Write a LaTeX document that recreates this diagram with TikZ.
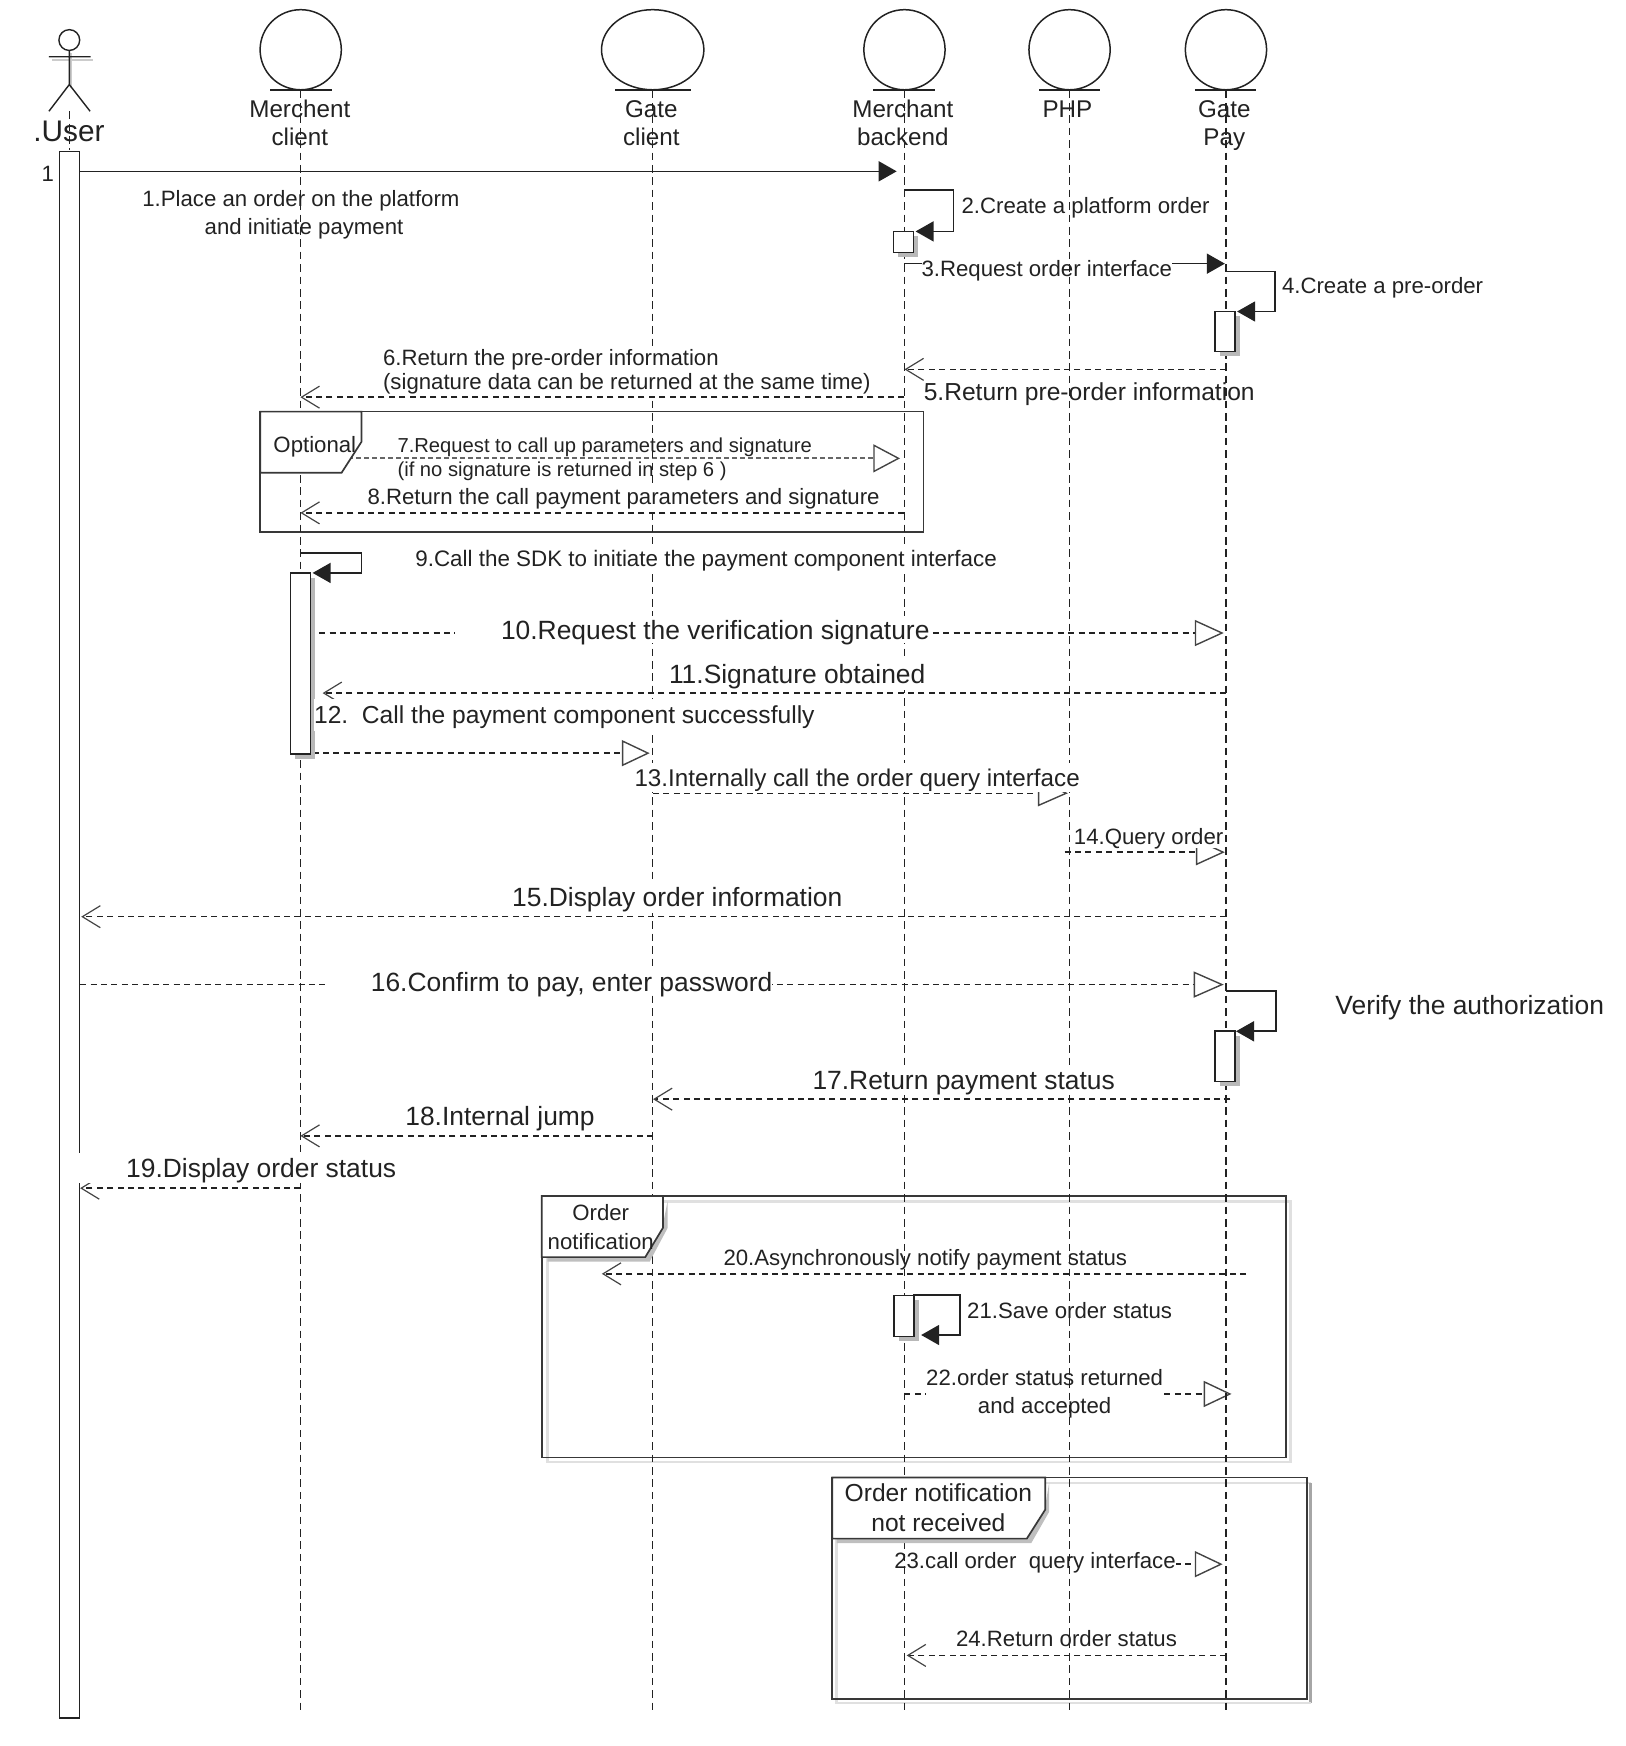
\documentclass[tikz,border=0pt]{standalone}
\usepackage{fontspec}
\setmainfont{Liberation Sans}
\usetikzlibrary{arrows.meta,shapes.geometric,shadows}
\def\ov{0.55625pt}
\definecolor{ink}{HTML}{222222}
\definecolor{headc}{HTML}{444444}
\tikzset{
  x=0.55625pt, y=-0.55625pt,
  every node/.style={text=ink, inner sep=0pt},
  headnode/.style={draw=ink, line width=0.75pt, ellipse, minimum height=72*\ov},
  headlabel/.style={align=center, font=\fontsize{12.1}{13.9}\selectfont},
  headbar/.style={draw=ink, line width=0.8pt},
  life/.style={draw=ink, line width=0.72pt, dash pattern=on 3.8pt off 2.4pt},
  mlsmall/.style={font=\fontsize{11.1}{13.9}\selectfont},
  small/.style={font=\fontsize{11.1}{13.9}\selectfont, text height=8.8pt, text depth=0pt},
  tiny/.style={font=\fontsize{10.1}{12.2}\selectfont, align=left},
  mid/.style={font=\fontsize{12.3}{14.5}\selectfont, text height=9pt, text depth=0pt},
  big/.style={font=\fontsize{13.2}{15}\selectfont, text height=9.4pt, text depth=0pt},
  wbox/.style={fill=white, minimum height=#1*\ov, anchor=west},
  barbox/.style 2 args={draw=ink, fill=white, line width=0.8pt, minimum width=#1*\ov, minimum height=#2*\ov},
  actbox/.style 2 args={barbox={#1}{#2}, drop shadow={shadow xshift=2.4pt, shadow yshift=-2.4pt, fill=black!28, opacity=1}},
  syncmsg/.style={draw=ink, line width=0.8pt, -{Triangle[length=9pt,width=10pt,fill=ink]}},
  retmsg/.style={draw=ink, line width=0.72pt, dash pattern=on 3pt off 2.2pt, -{Straight Barb[length=9pt,width=11pt,line width=0.6pt,color=headc]}},
  tri/.style={draw=ink, line width=0.72pt, dash pattern=on 3pt off 2.2pt, -{Triangle[length=#1*\ov,width=13pt,fill=white,line width=0.7pt,color=headc]}},
  selfmsg/.style={draw=ink, line width=0.8pt, -{Triangle[length=9pt,width=10pt,fill=ink]}},
  frame/.style={draw=ink!90, line width=0.85pt},
  frameshadow/.style={draw=#1, line width=1.2pt},
  tab/.style={draw=ink!90, fill=white, line width=0.85pt},
  tabshadow/.style={fill=black!25},
}
\begin{document}
\begin{tikzpicture}
\useasboundingbox (0,0) rectangle (1461.57,1569.44);
% heads
\node[headnode, minimum width=73*\ov] (mc) at (270.3,44.7) {};
\node[headnode, minimum width=92*\ov] (gc) at (586.7,44.7) {};
\node[headnode, minimum width=73*\ov] (mb) at (813.0,44.7) {};
\node[headnode, minimum width=73*\ov] (ph) at (961.4,44.7) {};
\node[headnode, minimum width=73*\ov] (gp) at (1102,44.7) {};
\coordinate (mcL) at (243,81); \coordinate (mcR) at (298,81);
\coordinate (gcL) at (553,81); \coordinate (gcR) at (621,81);
\coordinate (mbL) at (785,81); \coordinate (mbR) at (840,81);
\coordinate (phL) at (934,81); \coordinate (phR) at (989,81);
\coordinate (gpL) at (1074,81); \coordinate (gpR) at (1129,81);
\draw[headbar] (mcL) -- (mcR); \draw[headbar] (gcL) -- (gcR); \draw[headbar] (mbL) -- (mbR);
\draw[headbar] (phL) -- (phR); \draw[headbar] (gpL) -- (gpR);
\node[headlabel] (lmc) at (269.5,110.5) {Merchent\\client};
\node[headlabel] (lgc) at (585.5,110.5) {Gate\\client};
\node[headlabel] (lmb) at (811.5,110.5) {Merchant\\backend};
\node[headlabel] (lph) at (959.5,98) {PHP};
\node[headlabel] (lgp) at (1100.5,113) {Gate\\Pay};
% actor
\draw[black!20, line width=1pt] (47,54) -- (84,54) (64,48) -- (64,79);
\draw[draw=ink, line width=0.7pt] (62.3,36) circle (5.2pt);
\coordinate (armL) at (44,51); \coordinate (armR) at (81.5,51);
\coordinate (neck) at (62.3,45.5); \coordinate (hip) at (62.3,76);
\coordinate (legL) at (44,100); \coordinate (legR) at (81,100);
\draw[draw=ink, line width=0.7pt] (armL) -- (armR) (neck) -- (hip) (legL) -- (hip) -- (legR);
\node[font=\fontsize{14.9}{17}\selectfont] (luser) at (62,118) {.User};
\node[mlsmall] (one) at (43,156) {1};
% frames
\draw[frame] (234,370) rectangle (830,478);
\draw[frameshadow=black!12] (492,1080) -- (1160,1080) -- (1160,1314) -- (492,1314) -- cycle;
\draw[frame] (487,1075) rectangle (1156,1310);
\draw[frameshadow=black!12] (752,1333) -- (1178,1333);
\draw[frameshadow=black!35] (1178,1333) -- (1178,1531);
\draw[frameshadow=black!12] (1178,1531) -- (752,1531) -- (752,1333);
\draw[frame] (748,1328) rectangle (1175,1527);
% messages
\coordinate (m1a) at (72,154); \coordinate (m1b) at (806,154);
\draw[syncmsg] (m1a) -- (m1b);
\coordinate (m3a) at (813,237); \coordinate (m3b) at (1101,237);
\draw[syncmsg] (m3a) -- (m3b);
\coordinate (m5a) at (1102,332); \coordinate (m5b) at (813,332);
\draw[retmsg] (m5a) -- (m5b);
\coordinate (m7a) at (270,412); \coordinate (m7b) at (809,412);
\draw[draw=black!60, line width=1pt, dash pattern=on 2.4pt off 1.6pt, -{Triangle[length=24*\ov,width=14pt,fill=white,line width=0.7pt,color=headc]}] (m7a) -- (m7b);
\coordinate (m8a) at (813,461); \coordinate (m8b) at (270,461);
\draw[retmsg] (m8a) -- (m8b);
\coordinate (m10a) at (287,569); \coordinate (m10b) at (1100,569);
\draw[tri=26] (m10a) -- (m10b);
\coordinate (m11a) at (1102,623); \coordinate (m11b) at (290,623);
\draw[retmsg] (m11a) -- (m11b);
\coordinate (m12a) at (281,677); \coordinate (m12b) at (584,677);
\draw[tri=25] (m12a) -- (m12b);
\coordinate (m13a) at (587,713); \coordinate (m13b) at (960,713);
\draw[tri=27] (m13a) -- (m13b);
\coordinate (m14a) at (957,766); \coordinate (m14b) at (1101,766);
\draw[tri=26] (m14a) -- (m14b);
\coordinate (m15a) at (1102,824); \coordinate (m15b) at (73,824);
\draw[retmsg] (m15a) -- (m15b);
\coordinate (m16a) at (72,885); \coordinate (m16b) at (1100,885);
\draw[tri=27] (m16a) -- (m16b);
\coordinate (m17a) at (1106,988); \coordinate (m17b) at (587,988);
\draw[retmsg] (m17a) -- (m17b);
\coordinate (m18a) at (587,1021); \coordinate (m18b) at (270,1021);
\draw[retmsg] (m18a) -- (m18b);
\coordinate (m19a) at (270,1068); \coordinate (m19b) at (72,1068);
\draw[retmsg] (m19a) -- (m19b);
\coordinate (m20a) at (1120,1145); \coordinate (m20b) at (541,1145);
\draw[retmsg] (m20a) -- (m20b);
\coordinate (m22a) at (813,1253); \coordinate (m22b) at (1107,1253);
\draw[tri=25] (m22a) -- (m22b);
\coordinate (m23a) at (813,1406); \coordinate (m23b) at (1099,1406);
\draw[tri=25] (m23a) -- (m23b);
\coordinate (m24a) at (1102,1488); \coordinate (m24b) at (815,1488);
\draw[retmsg] (m24a) -- (m24b);
% labels through which the lifelines show
\node[small, wbox=22] (l3) at (828,241) {3.Request order interface};
\node[mlsmall, fill=white, align=center] (l22) at (939,1253) {22.order status returned\\and accepted};
\node[small, wbox=24] (l23) at (803.5,1402) {23.call order\ \ query interface};
% lifelines
\coordinate (ue) at (62.3,135); \coordinate (us) at (62.3,100);
\coordinate (mce) at (270.3,1540); \coordinate (gce) at (586.7,1540); \coordinate (mbe) at (813,1540);
\coordinate (phe) at (961.4,1540); \coordinate (gpe) at (1102,1540);
\draw[life] (us) -- (ue);
\draw[life] (mc.south) -- (mce);
\draw[life] (gc.south) -- (gce);
\draw[life] (mb.south) -- (mbe);
\draw[life] (ph.south) -- (phe);
\draw[life] (gp.south) -- (gpe);
% activations
\node[barbox={18}{1408}] (ub) at (62.5,840) {};
\node[actbox={18}{19}] (a2) at (812,217.5) {};
\node[actbox={18}{36}] (a4) at (1101,298) {};
\node[actbox={18}{163}] (a9) at (270,596.5) {};
\node[actbox={18}{45}] (a17) at (1101,949.5) {};
\node[actbox={18}{37}] (a21) at (812.5,1183) {};
% self messages
\coordinate (s2a) at (813,171); \coordinate (s2b) at (857,171); \coordinate (s2c) at (857,208); \coordinate (s2d) at (823,208);
\draw[selfmsg] (s2a) -- (s2b) -- (s2c) -- (s2d);
\coordinate (s4a) at (1102,244); \coordinate (s4b) at (1146,244); \coordinate (s4c) at (1146,280); \coordinate (s4d) at (1112,280);
\draw[selfmsg] (s4a) -- (s4b) -- (s4c) -- (s4d);
\coordinate (s9a) at (270,497); \coordinate (s9b) at (325,497); \coordinate (s9c) at (325,515); \coordinate (s9d) at (281,515);
\draw[selfmsg] (s9a) -- (s9b) -- (s9c) -- (s9d);
\coordinate (s16a) at (1102,891); \coordinate (s16b) at (1147,891); \coordinate (s16c) at (1147,927); \coordinate (s16d) at (1111,927);
\draw[selfmsg] (s16a) -- (s16b) -- (s16c) -- (s16d);
\coordinate (s21a) at (821,1164); \coordinate (s21b) at (863,1164); \coordinate (s21c) at (863,1200); \coordinate (s21d) at (828,1200);
\draw[selfmsg] (s21a) -- (s21b) -- (s21c) -- (s21d);
% transparent labels
\node[mlsmall, align=center] (l1) at (270.5,193) {1.Place an order on the platform\\\ and initiate payment};
\node[small, anchor=west] (l2) at (864,184) {2.Create a platform order};
\node[small, anchor=west] (l4) at (1152,256) {4.Create a pre-order};
\node[mid, anchor=west] (l5) at (830,352) {5.Return pre-order information};
\node[tiny, anchor=west] (l7) at (357,413) {7.Request to call up parameters and signature\\(if no signature is returned in step 6 )};
\node[small, anchor=west] (l20) at (650,1130) {20.Asynchronously notify payment status};
\node[small, anchor=west] (l21) at (869,1177) {21.Save order status};
\node[small, anchor=west] (l24) at (859,1472.5) {24.Return order status};
\node[big, anchor=west] (lv) at (1200,903) {Verify the authorization};
% labels that cover the lifelines
\node[font=\fontsize{11.1}{12.1}\selectfont, fill=white, align=left, anchor=west, minimum height=44*\ov] (l6) at (344,334.5) {6.Return the pre-order information\\(signature data can be returned at the same time)};
\coordinate (m6a) at (813,357); \coordinate (m6b) at (270,357);
\draw[retmsg] (m6a) -- (m6b);
\node[small, wbox=24] (l8) at (330,446) {8.Return the call payment parameters and signature};
\node[small, font=\fontsize{11.2}{13.9}\selectfont, wbox=24] (l9) at (373,501) {9.Call the SDK to initiate the payment component interface};
\node[big, wbox=24] (l10) at (409,566) {\hspace*{22.8pt}10.Request the verification signature};
\node[big, wbox=28] (l11) at (601,606) {11.Signature obtained};
\node[mid, wbox=29] (l12) at (282,642.5) {12.\ \ Call the payment component successfully};
\node[font=\fontsize{12.1}{14.5}\selectfont, text height=9pt, text depth=0pt, wbox=26] (l13) at (570,698.5) {13.Internally call the order query interface};
\node[small, wbox=22] (l14) at (965,751) {14.Query order};
\node[big, wbox=29] (l15) at (460,806) {15.Display order information};
\node[big, wbox=23] (l16) at (292,882.5) {\hspace*{22.8pt}16.Confirm to pay, enter password};
\node[big, wbox=27] (l17) at (730,970.5) {17.Return payment status};
\node[big, wbox=24] (l18) at (364,1003) {18.Internal jump};
\node[big, wbox=27] (l19) at (71,1050) {\hspace*{23.4pt}19.Display order status};
% frame tabs
\draw[tab] (234,370) -- (325,370) -- (325,397) -- (307,425) -- (234,425) -- cycle;
\node[small] (lopt) at (283,399) {Optional};
\fill[tabshadow] (600,1080) -- (600,1104) -- (584,1134) -- (492,1134) -- (492,1129) -- (596,1100) -- cycle;
\draw[tab] (487,1075) -- (596,1075) -- (596,1103.5) -- (580,1130) -- (487,1130) -- cycle;
\node[font=\fontsize{11.1}{14.4}\selectfont, align=center] (lon) at (540,1103) {Order\\notification};
\fill[tabshadow] (943,1333) -- (943,1359) -- (927,1387) -- (752,1387) -- (752,1383) -- (939,1357) -- cycle;
\draw[tab] (748,1328) -- (939.5,1328) -- (939.5,1357) -- (923,1383) -- (748,1383) -- cycle;
\node[align=center, font=\fontsize{12.3}{15}\selectfont] (lnr) at (843.5,1355.5) {Order notification\\not received};
\end{tikzpicture}
\end{document}
